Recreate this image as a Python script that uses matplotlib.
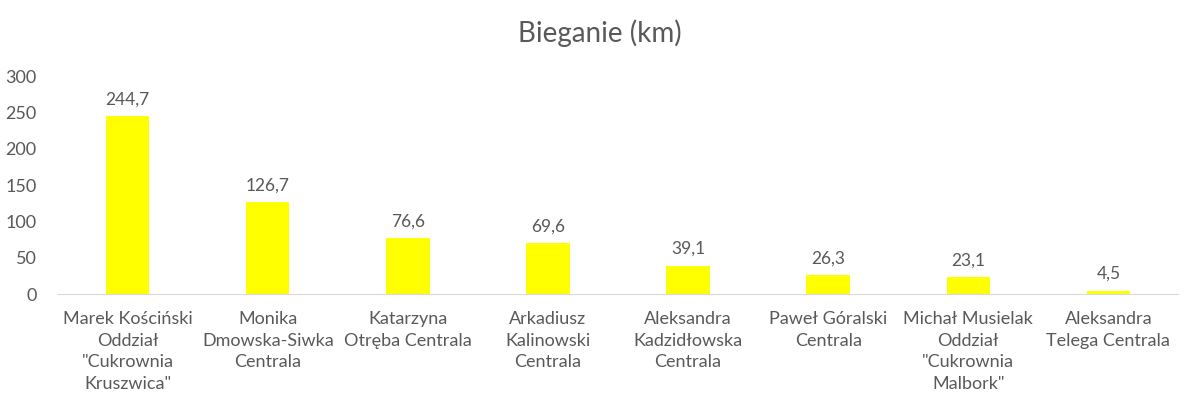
import numpy as np
import matplotlib
matplotlib.use("Agg")
import matplotlib.pyplot as plt

plt.rcParams['font.family'] = ['Lato', 'DejaVu Sans']

names = [
    'Marek Kościński\nOddział\n"Cukrownia\nKruszwica"',
    'Monika\nDmowska-Siwka\nCentrala',
    'Katarzyna\nOtręba Centrala',
    'Arkadiusz\nKalinowski\nCentrala',
    'Aleksandra\nKadzidłowska\nCentrala',
    'Paweł Góralski\nCentrala',
    'Michał Musielak\nOddział\n"Cukrownia\nMalbork"',
    'Aleksandra\nTelega Centrala',
]
km = [244.7, 126.7, 76.6, 69.6, 39.1, 26.3, 23.1, 4.5]
km_labels = ['244,7', '126,7', '76,6', '69,6', '39,1', '26,3', '23,1', '4,5']
yticks = [0, 50, 100, 150, 200, 250, 300]

grey = '#595959'

fig = plt.figure(figsize=(12, 4.09), dpi=100)
ax = fig.add_axes([0.048, 0.281, 0.934, 0.533])

x = np.arange(len(km))
bars = ax.bar(x, km, width=0.31, color='#ffff00')
for b, lab in zip(bars, km_labels):
    ax.text(b.get_x() + b.get_width() / 2, b.get_height() + 12, lab,
            ha='center', va='bottom', fontsize=12.5, color=grey)

ax.set_xlim(-0.5, len(km) - 0.5)
ax.set_ylim(0, 300)
ax.set_yticks(yticks)
ax.set_yticklabels([str(t) for t in yticks], fontsize=13, color=grey)
ax.set_xticks(x)
ax.set_xticklabels(names, fontsize=13, color=grey, linespacing=1.45)
ax.tick_params(axis='x', length=0, pad=12)
ax.tick_params(axis='y', length=0, pad=15)

for s in ['top', 'right', 'left']:
    ax.spines[s].set_visible(False)
ax.spines['bottom'].set_color('#d9d9d9')

fig.text(0.5, 0.918, 'Bieganie (km)', ha='center', va='center',
         fontsize=20, color=grey)

fig.savefig('out.png', dpi=100)
